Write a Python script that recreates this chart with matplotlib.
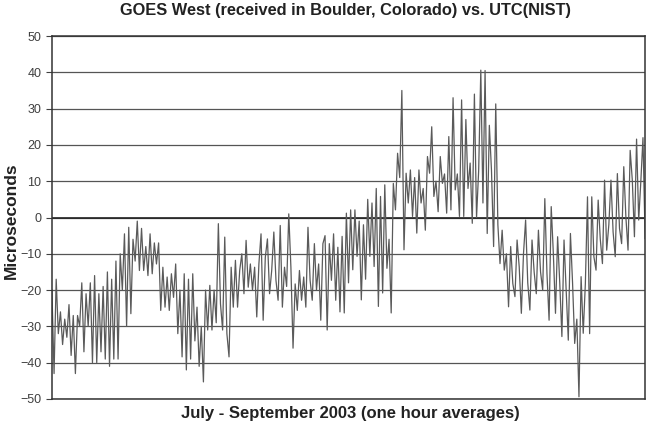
import matplotlib.pyplot as plt
import numpy as np

# GOES West vs UTC(NIST), swings (microseconds), in time order
july = [-20, -43, -17, -32, -26, -35, -28, -33, -24, -38, -27, -43, -27, -30, -18, -37,
        -21, -30, -18, -40, -16, -40, -21, -37, -19, -39, -15, -41, -17, -39, -12, -39,
        -10, -20, -4.5, -30, -2.7, -26.5, -6, -12, -1, -14.6, -3, -14.6, -8, -16, -4.5,
        -15.5, -7, -12.8, -7, -25.6, -13.7, -24.7, -16.4, -25.6, -15.5, -22, -12.8, -32,
        -20, -38.4, -15.5, -42, -17, -39]

early_aug = [-15.5, -34, -24.7, -41, -30, -45.3, -20, -31, -18.7, -31, -20, -29, -1.7,
             -23.8, -31, -5.4, -32, -38.4, -13.7, -24.7, -11.8, -24.7, -14.6, -10, -21,
             -6.3, -19.2, -12.8, -20, -13.7, -27.4, -12.8, -4.5, -28.3, -11, -5.9, -21,
             -14.6, -4, -17.3, -22.8, -2.2, -24.7, -13.7, -19, 1, -13.7, -36, -18.3,
             -25.6, -14.6, -22.8, -16.4, -24.7, -2.7, -17.3, -22.8, -7.2, -20, -12.8,
             -28.3, -7.2, -5, -31, -7.2, -17.3, -4.5, -22.8, -8.2]

late_aug = [-26, -5.2, -26.3, 1.2, -18, 2.1, -14.4, 2.1, -10.7, -1, -22.7, -2, -17, 5,
            -10.7, 4, -13.5, 8, -24.5, 5.8, -20.8, 9, -14, -6, -26.3, 9.4, 2.1, 17.7, 11,
            35, -8.9, 12.2, 4, 13.1, 0.3, 11, -4.3, 13.1, 4, 8, -3.5, 16.8, 12.2, 25, 5.8,
            10, 1.6, 16.8, 9.4, 12, 1.2, 22.3, 2.1, 33, 7.6, 12, 0.3, 32.4, 0.3, 27, 8,
            15, -1.6, 34, 0, 13, 40.6]

september = [4, 40.5, -4.4, 25.4, 13, -8, 31.3, -2, -12.7, -3.5, -14.5, -10, -24.6, -8,
             -18.2, -21.8, -6.2, -13.6, -26.4, -10, -0.7, -18, -25.5, -6.2, -15, -21,
             -3.5, -15, -20, 5.2, -15.4, -28.3, 3, -10, -26.4, -5.3, -18, -32.8, -6.2,
             -20, -33.8, -4.4, -18, -34.7, -28, -49.4, -16.3, -31.9, -18.2, 5.7, -32, 5.7,
             -10.8, -14.5, 4.8, -6, -12.7, 10.3, -9, -2, 10.3, -4, -10.8, 12.1, -3, -7.2,
             14, 0, -9, 18.5, 10.3, -5.3, 21.6, -0.7, 10, 22, -5.8]

values = july + early_aug + late_aug + september
t = np.arange(len(values))

plt.rcParams['font.family'] = ['Liberation Sans', 'DejaVu Sans']

fig = plt.figure(figsize=(6.49, 4.29), dpi=100)
ax = fig.add_axes([0.080, 0.070, 0.914, 0.846])

ax.plot(t, values, color='#5a5a5a', lw=0.9)
ax.axhline(0, color='#222222', lw=1.2, zorder=1)

ax.set_xlim(0, len(values) - 1)
ax.set_ylim(-50, 50)
ax.set_yticks(np.arange(-50, 51, 10))
ax.set_xticks([])
ax.grid(axis='y', color='#555555', lw=0.9)
ax.set_axisbelow(True)
ax.tick_params(axis='y', labelsize=9, labelcolor='#404040', color='#404040', length=4)
for s in ax.spines.values():
    s.set_color('#333333')
    s.set_linewidth(1.1)

fig.text(0.532, 0.975, 'GOES West (received in Boulder, Colorado) vs. UTC(NIST)',
         ha='center', va='center', fontsize=11.8, fontweight='bold', color='#222222')
ax.set_xlabel('July - September 2003 (one hour averages)', fontsize=12,
              fontweight='bold', color='#222222')
ax.xaxis.set_label_coords(0.503, -0.018)
ax.set_ylabel('Microseconds', fontsize=12.5, fontweight='bold', color='#222222')
ax.yaxis.set_label_coords(-0.056, 0.49)

fig.savefig('out.png')
